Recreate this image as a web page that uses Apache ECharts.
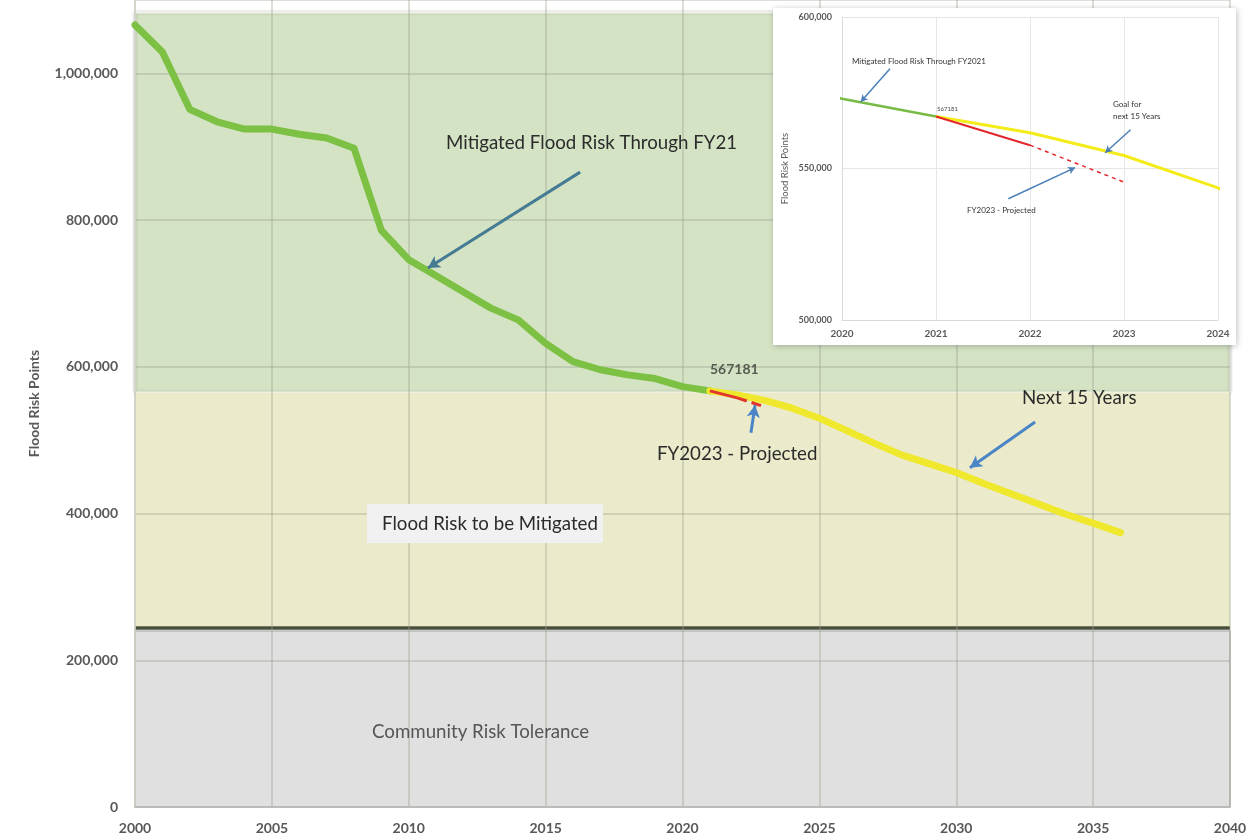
<!DOCTYPE html>
<html>
<head>
<meta charset="utf-8">
<title>Flood Risk Points</title>
<script src="https://cdn.jsdelivr.net/npm/echarts@6/dist/echarts.min.js"></script>
<style>
  html, body { margin: 0; padding: 0; background: #ffffff; }
  #chart { width: 1260px; height: 839px; }
</style>
</head>
<body>
<div id="chart"></div>
<script>
// Mitigated flood risk, fiscal years 2000-2021
const mitigatedYears = [2000, 2001, 2002, 2003, 2004, 2005, 2006, 2007, 2008, 2009, 2010,
  2011, 2012, 2013, 2014, 2015, 2016, 2017, 2018, 2019, 2020, 2021];
const mitigatedValues = [1066000, 1029000, 951000, 934000, 924000, 924000, 917000, 912000, 898000, 786000, 746000,
  724000, 702000, 680000, 664000, 632000, 607000, 596000, 589000, 584000, 573000, 567181];

// Goal for the next 15 years
const goalYears = [2021, 2022, 2023, 2024, 2025, 2026, 2027, 2028, 2029, 2030, 2031, 2032, 2033, 2034, 2035, 2036];
const goalValues = [567181, 561800, 554300, 543600, 530000, 513000, 496000, 480000, 468000, 456000, 441000,
  427000, 413000, 399000, 387000, 374000];

// FY2023 projection (actual through 2022, projected to 2023)
const projectedYears = [2021, 2022, 2023];
const projectedValues = [567181, 557700, 545500];

// Risk bands
const bandMitigated = [565000, 1083000];
const bandToMitigate = [246000, 565000];
const bandTolerance = [0, 240000];
const toleranceLine = 244000;

const startValue = 567181;

// Axis ticks
const mainXTicks = { min: 2000, max: 2040, interval: 5 };
const mainYTicks = { min: 0, max: 1100000, interval: 200000 };
const insetXTicks = { min: 2020, max: 2024, interval: 1 };
const insetYTicks = { min: 500000, max: 600000, interval: 50000 };

const pairs = (xs, ys) => xs.map((x, i) => [x, ys[i]]);
const fmt = v => v.toLocaleString('en-US');
const yearFmt = v => String(v);

const FONT = 'Lato';
const axisLabelColor = '#595959';
const noteFont = '18.7px Lato';

const chart = echarts.init(document.getElementById('chart'), null, { renderer: 'canvas' });

const mainGridLine = { show: true, lineStyle: { color: 'rgba(150,160,140,0.45)', width: 1.5 } };
const insetGridLine = { show: true, lineStyle: { color: '#e6e6e6', width: 1 } };

const option = {
  backgroundColor: '#ffffff',
  animation: false,
  grid: [
    { left: 135, right: 30, top: 0, bottom: 32 },
    { left: 842, right: 42, top: 17, height: 303 }
  ],
  xAxis: [
    {
      gridIndex: 0, type: 'value', min: mainXTicks.min, max: mainXTicks.max, interval: mainXTicks.interval,
      z: 1,
      axisLine: { show: true, lineStyle: { color: '#bdbdbd', width: 1.5 } },
      axisTick: { show: false },
      splitLine: mainGridLine,
      axisLabel: { color: axisLabelColor, fontFamily: FONT, fontWeight: 'bold', fontSize: 14, margin: 14,
        formatter: yearFmt }
    },
    {
      gridIndex: 1, type: 'value', min: insetXTicks.min, max: insetXTicks.max, interval: insetXTicks.interval,
      z: 6,
      axisLine: { show: true, lineStyle: { color: '#d9d9d9' } },
      axisTick: { show: false },
      splitLine: insetGridLine,
      axisLabel: { color: axisLabelColor, fontFamily: FONT, fontWeight: 'bold', fontSize: 10, margin: 9,
        formatter: yearFmt }
    }
  ],
  yAxis: [
    {
      gridIndex: 0, type: 'value', min: mainYTicks.min, max: mainYTicks.max, interval: mainYTicks.interval,
      z: 1,
      name: 'Flood Risk Points', nameLocation: 'middle', nameGap: 94, nameRotate: 90,
      nameTextStyle: { color: axisLabelColor, fontFamily: FONT, fontWeight: 'bold', fontSize: 14 },
      axisLine: { show: true, lineStyle: { color: '#cfd3c8', width: 1.5 } },
      axisTick: { show: false },
      splitLine: mainGridLine,
      axisLabel: { color: axisLabelColor, fontFamily: FONT, fontWeight: 'bold', fontSize: 14, margin: 17,
        showMaxLabel: false, formatter: v => fmt(v) }
    },
    {
      gridIndex: 1, type: 'value', min: insetYTicks.min, max: insetYTicks.max, interval: insetYTicks.interval,
      z: 6,
      name: 'Flood Risk Points', nameLocation: 'middle', nameGap: 52, nameRotate: 90,
      nameTextStyle: { color: axisLabelColor, fontFamily: FONT, fontSize: 9.5 },
      axisLine: { show: true, lineStyle: { color: '#d9d9d9' } },
      axisTick: { show: false },
      splitLine: insetGridLine,
      axisLabel: { color: axisLabelColor, fontFamily: FONT, fontWeight: 'bold', fontSize: 9, margin: 10,
        formatter: v => fmt(v) }
    }
  ],
  graphic: [
    // inset panel
    {
      type: 'rect', z: 5, silent: true,
      shape: { x: 773, y: 8, width: 463, height: 337 },
      style: { fill: '#ffffff', shadowBlur: 6, shadowColor: 'rgba(0,0,0,0.25)', shadowOffsetX: 1, shadowOffsetY: 1 }
    },
    // main chart annotations
    {
      type: 'text', z: 20, left: 446, top: 133,
      style: { text: 'Mitigated Flood Risk Through FY21', fill: '#2b2b2b', font: noteFont }
    },
    {
      type: 'text', z: 20, left: 710, top: 362,
      style: { text: String(startValue), fill: '#555a50', font: 'bold 14px Lato' }
    },
    {
      type: 'text', z: 20, left: 657, top: 444,
      style: { text: 'FY2023 - Projected', fill: '#2b2b2b', font: noteFont }
    },
    {
      type: 'text', z: 20, left: 1022, top: 388,
      style: { text: 'Next 15 Years', fill: '#2b2b2b', font: noteFont }
    },
    {
      type: 'text', z: 20, left: 367, top: 504,
      style: { text: 'Flood Risk to be Mitigated', fill: '#2b2b2b', font: noteFont,
        backgroundColor: '#f1f1f1', padding: [10, 5, 10, 15] }
    },
    {
      type: 'text', z: 20, left: 372, top: 722,
      style: { text: 'Community Risk Tolerance', fill: '#555555', font: noteFont }
    },
    // inset annotations
    {
      type: 'text', z: 20, left: 852, top: 57,
      style: { text: 'Mitigated Flood Risk Through FY2021', fill: '#333333', font: '8px Lato' }
    },
    {
      type: 'text', z: 20, left: 937, top: 106,
      style: { text: String(startValue), fill: '#444444', font: '6px Lato' }
    },
    {
      type: 'text', z: 20, left: 1113, top: 98,
      style: { text: 'Goal for\nnext 15 Years', fill: '#333333', font: '8px Lato', lineHeight: 12 }
    },
    {
      type: 'text', z: 20, left: 967, top: 206,
      style: { text: 'FY2023 - Projected', fill: '#333333', font: '8px Lato' }
    }
  ],
  series: [
    // main chart: risk bands
    {
      type: 'line', xAxisIndex: 0, yAxisIndex: 0, data: [], silent: true,
      markArea: {
        silent: true, z: -1,
        data: [
          [{ yAxis: bandMitigated[0], itemStyle: { color: '#d5e3c5', borderColor: '#f4f6ee', borderWidth: 2,
              shadowBlur: 3, shadowColor: 'rgba(0,0,0,0.2)' } }, { yAxis: bandMitigated[1] }],
          [{ yAxis: bandToMitigate[0], itemStyle: { color: '#ebeacb' } }, { yAxis: bandToMitigate[1] }],
          [{ yAxis: bandTolerance[0], itemStyle: { color: '#e0e0e0', borderColor: '#b8b8b8', borderWidth: 1.5 } },
            { yAxis: bandTolerance[1] }]
        ]
      },
      markLine: {
        silent: true, symbol: 'none', z: 0,
        label: { show: false },
        lineStyle: { color: '#4a4e3c', width: 3.5, type: 'solid' },
        data: [{ yAxis: toleranceLine }]
      }
    },
    {
      name: 'Mitigated Flood Risk', type: 'line', xAxisIndex: 0, yAxisIndex: 0, z: 3,
      data: pairs(mitigatedYears, mitigatedValues), showSymbol: false,
      lineStyle: { color: '#7cc143', width: 7, cap: 'round', join: 'round' }
    },
    {
      name: 'Goal', type: 'line', xAxisIndex: 0, yAxisIndex: 0, z: 3,
      data: pairs(goalYears, goalValues), showSymbol: false,
      lineStyle: { color: '#efe82c', width: 7, cap: 'round', join: 'round' }
    },
    {
      name: 'FY2023 - Projected', type: 'line', xAxisIndex: 0, yAxisIndex: 0, z: 4,
      data: pairs(projectedYears.slice(0, 2), projectedValues.slice(0, 2)), showSymbol: false,
      lineStyle: { color: '#e3342a', width: 3 }
    },
    {
      name: 'FY2023 - Projected (dashed)', type: 'line', xAxisIndex: 0, yAxisIndex: 0, z: 4,
      data: pairs(projectedYears.slice(1), projectedValues.slice(1)), showSymbol: false,
      lineStyle: { color: '#e3342a', width: 3, type: [10, 5] }
    },
    // main chart arrows
    {
      type: 'line', xAxisIndex: 0, yAxisIndex: 0, data: [], silent: true,
      markLine: {
        silent: true, z: 6, symbol: ['none', 'arrow'], symbolSize: [10, 12],
        label: { show: false },
        data: [
          [{ coord: [2016.26, 865400], lineStyle: { color: '#457b93', width: 3, type: 'solid' } }, { coord: [2010.7, 734600] }],
          [{ coord: [2022.5, 510000], lineStyle: { color: '#4a86c6', width: 3, type: 'solid' } }, { coord: [2022.65, 547500] }],
          [{ coord: [2032.88, 524700], lineStyle: { color: '#4a86c6', width: 3, type: 'solid' } }, { coord: [2030.5, 462500] }]
        ]
      }
    },
    // inset chart
    {
      name: 'Mitigated (inset)', type: 'line', xAxisIndex: 1, yAxisIndex: 1, z: 10,
      data: pairs(mitigatedYears, mitigatedValues), showSymbol: false,
      lineStyle: { color: '#77bb44', width: 2.5 }
    },
    {
      name: 'Goal (inset)', type: 'line', xAxisIndex: 1, yAxisIndex: 1, z: 10,
      data: pairs(goalYears, goalValues), showSymbol: false,
      lineStyle: { color: '#f3ec1a', width: 3 }
    },
    {
      name: 'Projected (inset)', type: 'line', xAxisIndex: 1, yAxisIndex: 1, z: 11,
      data: pairs(projectedYears.slice(0, 2), projectedValues.slice(0, 2)), showSymbol: false,
      lineStyle: { color: '#e3262a', width: 2 }
    },
    {
      name: 'Projected dashed (inset)', type: 'line', xAxisIndex: 1, yAxisIndex: 1, z: 11,
      data: pairs(projectedYears.slice(1), projectedValues.slice(1)), showSymbol: false,
      lineStyle: { color: '#e3262a', width: 1.5, type: [4, 4] }
    },
    {
      type: 'line', xAxisIndex: 1, yAxisIndex: 1, data: [], silent: true, z: 12,
      markLine: {
        silent: true, z: 12, symbol: ['none', 'arrow'], symbolSize: [6, 7],
        label: { show: false },
        lineStyle: { color: '#4a7fb8', width: 1.5, type: 'solid' },
        data: [
          [{ coord: [2020.51, 582900] }, { coord: [2020.2, 572000] }],
          [{ coord: [2023.07, 562800] }, { coord: [2022.8, 555200] }],
          [{ coord: [2021.77, 540000] }, { coord: [2022.48, 550300] }]
        ]
      }
    }
  ]
};

chart.setOption(option);
</script>
</body>
</html>
